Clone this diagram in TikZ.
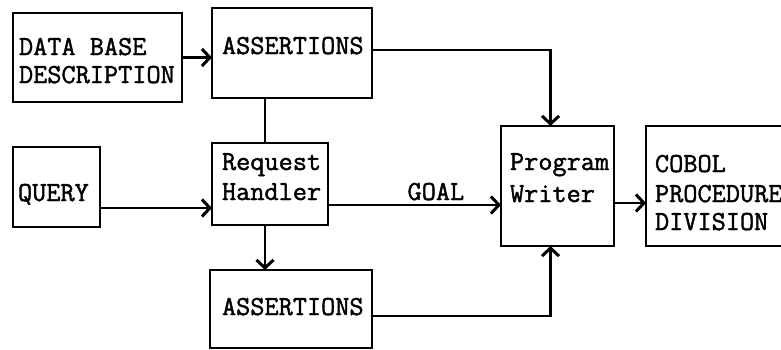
\documentclass[tikz,border=0pt]{standalone}
\usepackage{fontspec}
\newfontfamily\tw{Latin Modern Mono}[FakeBold=1.5]
\usetikzlibrary{arrows.meta}
\begin{document}
\begin{tikzpicture}[x=1pt,y=-1pt,
  box/.style={draw, line width=2.6pt, anchor=north west, inner sep=0pt, outer sep=0pt},
  lbl/.style={anchor=base west, inner sep=0pt, outer sep=0pt, align=left,
    font=\tw\fontsize{27.5}{30}\selectfont},
  link/.style={line width=2.6pt},
  arr/.style={line width=2.6pt, -{Straight Barb[length=8pt,width=17pt,line width=3pt]}}]
\useasboundingbox (0,0) rectangle (781,349);
\clip (0,0) rectangle (781,349);
\fill[white] (0,0) rectangle (781,349);

% boxes
\node[box, minimum width=169pt, minimum height=89pt]  (dbd)  at (13,13)  {};
\node[box, minimum width=160pt, minimum height=90pt]  (asA)  at (212,8)  {};
\node[box, minimum width=87pt,  minimum height=80pt]  (qry)  at (13,147) {};
\node[box, minimum width=116pt, minimum height=82pt]  (rh)   at (212,143){};
\node[box, minimum width=162pt, minimum height=78pt]  (asB)  at (210,270){};
\node[box, minimum width=113pt, minimum height=120pt] (pw)   at (501,126){};
\node[box, minimum width=160pt, minimum height=120pt] (cob)  at (646,126){};

% texts (anchored at the baseline of the last line)
\node[lbl] (tdbd) at (19,83)  {DATA BASE\\[-2pt]DESCRIPTION};
\node[lbl] (tasA) at (222,54) {ASSERTIONS};
\node[lbl] (tqry) at (18,201) {QUERY};
\node[lbl] (trh)  at (222,200){Request\\Handler};
\node[lbl] (tasB) at (222,315){ASSERTIONS};
\node[lbl] (tpw)  at (510,202){Program\\[2pt]Writer};
\node[lbl] (tcob) at (655,230){COBOL\\PROCEDURE\\[-2pt]DIVISION};

% connectors
\draw[arr] (dbd.east) -- (dbd.east -| asA.west);
\draw[arr] ([yshift=3pt]asA.east) -| ([xshift=-7pt]pw.north);
\draw[link] (rh.north -| 265,0) -- (asA.south -| 265,0);
\draw[arr] ([yshift=-21pt]qry.east) -- ([yshift=-21pt]qry.east -| rh.west);
\draw[arr] ([yshift=-21pt]rh.east) -- ([yshift=-21pt]rh.east -| pw.west)
  node[pos=0.46, lbl, anchor=base west, yshift=5pt] (goal) {GOAL};
\draw[arr] (rh.south -| 265,0) -- (asB.north -| 265,0);
\draw[arr] ([yshift=-7pt]asB.east) -| ([xshift=-7pt]pw.south);
\draw[arr] ([yshift=-17pt]pw.east) -- ([yshift=-17pt]pw.east -| cob.west);
\end{tikzpicture}
\end{document}
